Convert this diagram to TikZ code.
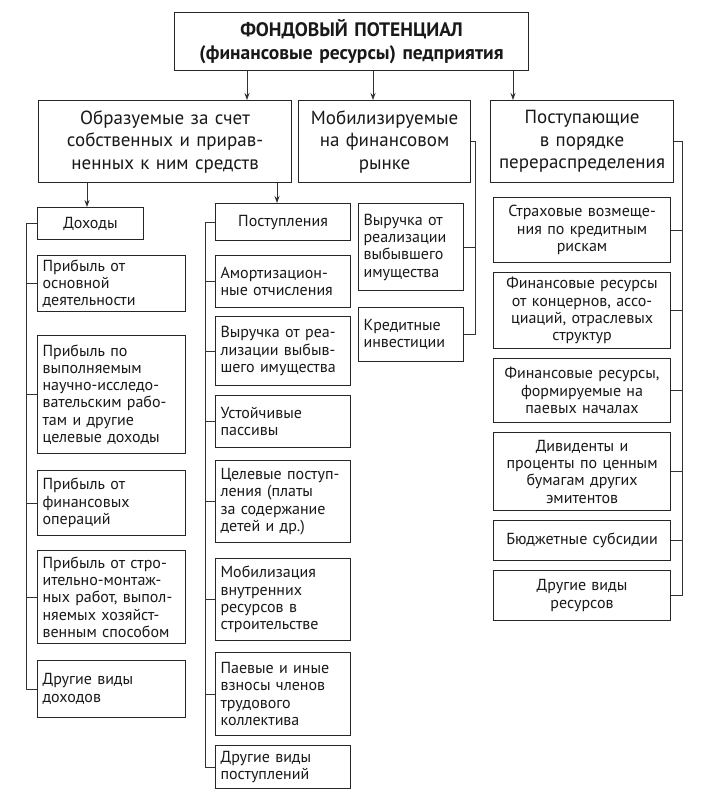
\documentclass[tikz,border=0pt]{standalone}
\usepackage{fontspec}
\setmainfont{PT Sans}
\usetikzlibrary{arrows.meta,calc}
\newcommand\mybox[8][]{%
  \pgfmathsetmacro\bw{#4-#2}%
  \pgfmathsetmacro\bh{#5-#3}%
  \pgfmathsetmacro\tw{#4-#2-10}%
  \node[box,#1,align=#6,anchor=north west,minimum width=\bw pt,minimum height=\bh pt,text width=\tw pt] (#7) at (#2,#3) {#8};}
\begin{document}
\begin{tikzpicture}[x=1pt,y=-1pt,
  box/.style={draw=black!85,line width=1.1pt,inner xsep=5pt,inner ysep=0pt,text=black!90,
    font=\fontsize{16}{17.3}\selectfont},
  head/.style={font=\fontsize{19}{22.5}\selectfont},
  ttl/.style={font=\bfseries\fontsize{19.5}{23}\selectfont},
  conn/.style={draw=black!80,line width=0.8pt},
  arr/.style={draw=black!80,line width=0.8pt,-{Stealth[length=7pt,width=5pt]}}]
\fill[white] (0,0) rectangle (710,800);
\useasboundingbox (0,0) rectangle (710,800);
% spine and arrow positions
\coordinate (sp1) at (26,0);
\coordinate (sp2) at (205,0);
\coordinate (sp3) at (475,0);
\coordinate (sp4) at (682,0);
\coordinate (a1) at (247,0);
\coordinate (a2) at (373,0);
\coordinate (a3) at (513,0);
\coordinate (b1) at (87,0);
\coordinate (b2) at (277,0);
% title
\mybox[ttl]{174}{12}{528}{70}{center}{title}{ФОНДОВЫЙ ПОТЕНЦИАЛ\\(финансовые ресурсы) педприятия}
% headers
\mybox[head]{38}{100}{291}{182}{center}{h1}{Образуемые за счет\\собственных и прирав-\\ненных к ним средств}
\mybox[head]{298}{100}{470}{182}{center}{h2}{Мобилизируемые\\на финансовом\\рынке}
\mybox[head]{490}{100}{673}{182}{center}{h3}{Поступающие\\в порядке\\перераспределения}
% column 1
\mybox{37}{207}{143}{239}{center}{doh}{Доходы}
\mybox{37}{255}{185}{311}{left}{l1}{Прибыль от\\основной\\деятельности}
\mybox{37}{335}{185}{453}{left}{l2}{Прибыль по\\выполняемым\\научно-исследо-\\вательским рабо-\\там и другие\\целевые доходы}
\mybox{37}{470}{185}{535}{left}{l3}{Прибыль от\\финансовых\\операций}
\mybox{37}{550}{185}{643}{left}{l4}{Прибыль от стро-\\ительно-монтаж-\\ных работ, выпол-\\няемых хозяйст-\\венным способом}
\mybox{37}{660}{185}{717}{left}{l5}{Другие виды\\доходов}
% column 2
\mybox{215}{203}{350}{240}{center}{post}{Поступления}
\mybox{215}{255}{350}{307}{left}{m1}{Амортизацион-\\ные отчисления}
\mybox{215}{316}{350}{385}{left}{m2}{Выручка от реа-\\лизации выбыв-\\шего имущества}
\mybox{215}{395}{350}{447}{left}{m3}{Устойчивые\\пассивы}
\mybox{215}{460}{350}{542}{left}{m4}{Целевые поступ-\\ления (платы\\за содержание\\детей и др.)}
\mybox{215}{558}{350}{640}{left}{m5}{Мобилизация\\внутренних\\ресурсов в\\строительстве}
\mybox{215}{652}{350}{735}{left}{m6}{Паевые и иные\\взносы членов\\трудового\\коллектива}
\mybox{215}{745}{350}{788}{left}{m7}{Другие виды\\поступлений}
% column 3
\mybox{358}{203}{463}{290}{left}{c1}{Выручка от\\реализации\\выбывшего\\имущества}
\mybox{358}{307}{463}{361}{left}{c2}{Кредитные\\инвестиции}
% column 4
\mybox{493}{197}{670}{262}{center}{r1}{Страховые возмеще-\\ния по кредитным\\рискам}
\mybox{493}{272}{670}{348}{center}{r2}{Финансовые ресурсы\\от концернов, ассо-\\циаций, отраслевых\\структур}
\mybox{493}{358}{670}{422}{center}{r3}{Финансовые ресурсы,\\формируемые на\\паевых началах}
\mybox{493}{432}{670}{510}{center}{r4}{Дивиденты и\\проценты по ценным\\бумагам других\\эмитентов}
\mybox{493}{520}{670}{560}{center}{r5}{Бюджетные субсидии}
\mybox{493}{570}{670}{620}{center}{r6}{Другие виды\\ресурсов}
% arrows
\draw[arr] (title.south -| a1) -- (h1.north -| a1);
\draw[arr] (title.south -| a2) -- (h2.north -| a2);
\draw[arr] (title.south -| a3) -- (h3.north -| a3);
\draw[arr] (h1.south -| b1) -- (doh.north -| b1);
\draw[arr] (h1.south -| b2) -- (post.north -| b2);
% column 1 spine
\draw[conn] (doh.west) -- (doh.west -| sp1) -- (l5.west -| sp1) -- (l5.west);
\foreach \n in {l1,l2,l3,l4} \draw[conn] (\n.west) -- (\n.west -| sp1);
% column 2 spine
\draw[conn] (post.west) -- (post.west -| sp2) -- (m7.west -| sp2) -- (m7.west);
\foreach \n in {m1,m2,m3,m4,m5,m6} \draw[conn] (\n.west) -- (\n.west -| sp2);
% column 3 spine
\draw[conn] (h2.east) -- (h2.east -| sp3) -- (c2.east -| sp3) -- (c2.east);
\draw[conn] (c1.east) -- (c1.east -| sp3);
% column 4 spine
\draw[conn] (h3.east) -- (h3.east -| sp4) -- (r6.east -| sp4) -- (r6.east);
\foreach \n in {r1,r2,r3,r4,r5} \draw[conn] (\n.east) -- (\n.east -| sp4);
\end{tikzpicture}
\end{document}
